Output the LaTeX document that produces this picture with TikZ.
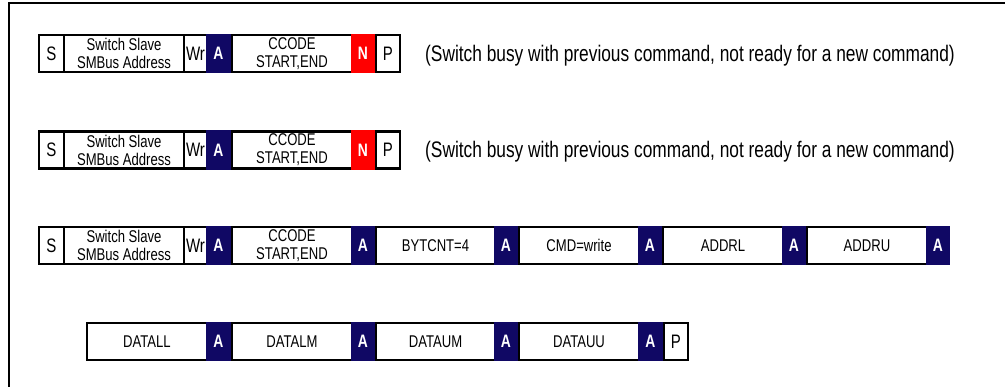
\documentclass[tikz,border=0pt]{standalone}
\usepackage{fontspec}
\newfontfamily\nar{Liberation Sans}[FakeStretch=0.77]
\definecolor{ackblue}{RGB}{16,8,100}
\definecolor{nakred}{RGB}{255,0,0}
\tikzset{
  fld/.style={draw=black, line width=2.2pt, fill=white, inner sep=0pt, outer sep=0pt,
    minimum height=37pt, align=center, font=\nar\fontsize{17}{18}\selectfont},
  bigtxt/.style={font=\nar\fontsize{19.5}{20}\selectfont},
  ackbox/.style={draw=none, inner sep=0pt, outer sep=0pt, minimum height=39.2pt,
    text=white, font=\nar\bfseries\fontsize{18}{19}\selectfont},
  note/.style={inner sep=0pt, anchor=base west, font=\nar\fontsize{22.5}{24}\selectfont},
  frameline/.style={line width=2.2pt}
}
\newcommand\mkfield[6][]{\pgfmathsetmacro\fw{#4-#3}\pgfmathsetmacro\fx{(#3+#4)/2}%
  \node[fld,#1,minimum width=\fw pt] (#2) at (\fx,#5) {#6};}
\newcommand\mkack[6]{\pgfmathsetmacro\fw{#3-#2}\pgfmathsetmacro\fx{(#2+#3)/2-1.1}%
  \node[ackbox,fill=#5,minimum width=\fw pt] (#1) at (\fx,#4) {#6};}
\begin{document}
\begin{tikzpicture}[x=1pt,y=-1pt]
\useasboundingbox (0,0) rectangle (1005,387);
\fill[white] (0,0) rectangle (1005,387);
% outer frame
\coordinate (fbl) at (9,387);
\coordinate (ftl) at (9,3);
\coordinate (ftr) at (1005,3);
\draw[frameline] (fbl) -- (ftl) -- (ftr);

% Row 1
\mkfield[bigtxt]{s1}{39}{64}{53.5}{S}
\mkfield{sa1}{64}{184}{53.5}{Switch Slave\\SMBus Address}
\mkfield[bigtxt]{wr1}{184}{207}{53.5}{Wr}
\mkfield{cc1}{232}{352}{53.5}{CCODE\\START,END}
\mkfield[bigtxt]{p1}{376}{400}{53.5}{P}
\mkack{a1}{207}{232}{53.5}{ackblue}{A}
\mkack{n1}{352}{376}{53.5}{nakred}{N}
\node[note] (t1) at (425,61.5) {(Switch busy with previous command, not ready for a new command)};

% Row 2
\mkfield[bigtxt]{s2}{39}{64}{150}{S}
\mkfield{sa2}{64}{184}{150}{Switch Slave\\SMBus Address}
\mkfield[bigtxt]{wr2}{184}{207}{150}{Wr}
\mkfield{cc2}{232}{352}{150}{CCODE\\START,END}
\mkfield[bigtxt]{p2}{376}{400}{150}{P}
\mkack{a2}{207}{232}{150}{ackblue}{A}
\mkack{n2}{352}{376}{150}{nakred}{N}
\node[note] (t2) at (425,158) {(Switch busy with previous command, not ready for a new command)};

% Row 3
\mkfield[bigtxt]{s3}{39}{64}{245.5}{S}
\mkfield{sa3}{64}{184}{245.5}{Switch Slave\\SMBus Address}
\mkfield[bigtxt]{wr3}{184}{207}{245.5}{Wr}
\mkfield{cc3}{232}{352}{245.5}{CCODE\\START,END}
\mkfield{bc3}{376}{495}{245.5}{BYTCNT=4}
\mkfield{cm3}{519}{639}{245.5}{CMD=write}
\mkfield{al3}{663}{783}{245.5}{ADDRL}
\mkfield{au3}{807}{927}{245.5}{ADDRU}
\mkack{a3a}{207}{232}{245.5}{ackblue}{A}
\mkack{a3b}{352}{376}{245.5}{ackblue}{A}
\mkack{a3c}{495}{519}{245.5}{ackblue}{A}
\mkack{a3d}{639}{663}{245.5}{ackblue}{A}
\mkack{a3e}{783}{807}{245.5}{ackblue}{A}
\mkack{a3f}{927}{951}{245.5}{ackblue}{A}

% Row 4
\mkfield{d1}{87}{207}{341.5}{DATALL}
\mkfield{d2}{232}{352}{341.5}{DATALM}
\mkfield{d3}{376}{495}{341.5}{DATAUM}
\mkfield{d4}{519}{639}{341.5}{DATAUU}
\mkfield[bigtxt]{p4}{664}{688}{341.5}{P}
\mkack{a4a}{207}{232}{341.5}{ackblue}{A}
\mkack{a4b}{352}{376}{341.5}{ackblue}{A}
\mkack{a4c}{495}{519}{341.5}{ackblue}{A}
\mkack{a4d}{639}{664}{341.5}{ackblue}{A}
\end{tikzpicture}
\end{document}
